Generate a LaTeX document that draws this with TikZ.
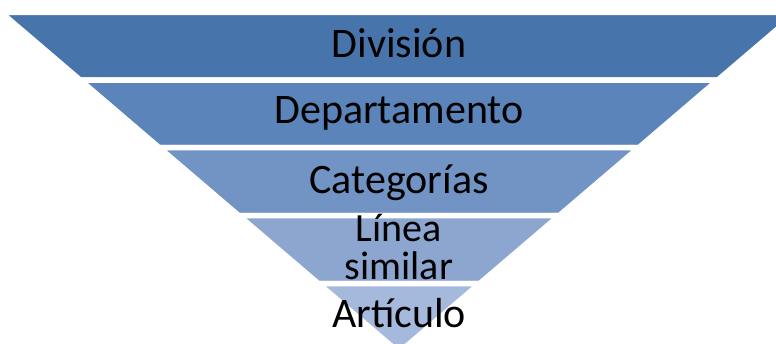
\documentclass[tikz,border=0pt]{standalone}
\usepackage{fontspec}
\setmainfont{Carlito}
\definecolor{cA}{RGB}{71,117,171}
\definecolor{cB}{RGB}{90,132,186}
\definecolor{cC}{RGB}{113,148,196}
\definecolor{cD}{RGB}{140,166,208}
\definecolor{cE}{RGB}{165,185,221}
\tikzset{
  layer/.style={fill=#1, draw=white, line width=5.5pt, line join=miter},
  lbl/.style={anchor=base, inner sep=0pt, font=\fontsize{42}{38}\selectfont, text=black},
}
\begin{document}
\begin{tikzpicture}[x=1pt,y=-1pt]
\useasboundingbox (0,0) rectangle (776,343);
\begin{scope}
\clip (0,0) rectangle (776,343);
\fill[white] (0,0) rectangle (776,343);
\path[layer=cA] (0.8,12.25) -- (797.2,12.25) -- (717.9,80) -- (80.1,80) -- cycle;
\node[lbl] (t1) at (399,57) {División};
\path[layer=cB] (80.1,80) -- (717.9,80) -- (639.0,147.5) -- (159.0,147.5) -- cycle;
\node[lbl] (t2) at (399,123) {Departamento};
\path[layer=cC] (159.0,147.5) -- (639.0,147.5) -- (559.4,215.5) -- (238.6,215.5) -- cycle;
\node[lbl] (t3) at (399,193) {Categorías};
\path[layer=cD] (238.6,215.5) -- (559.4,215.5) -- (479.8,283.5) -- (318.2,283.5) -- cycle;
\node[lbl, align=center, font=\fontsize{40}{38}\selectfont] (t4) at (399,279) {Línea\\similar};
\path[layer=cE] (318.2,283.5) -- (479.8,283.5) -- (399,352.6) -- cycle;
\node[lbl] (t5) at (399,327) {Artículo};
\end{scope}
\end{tikzpicture}
\end{document}
